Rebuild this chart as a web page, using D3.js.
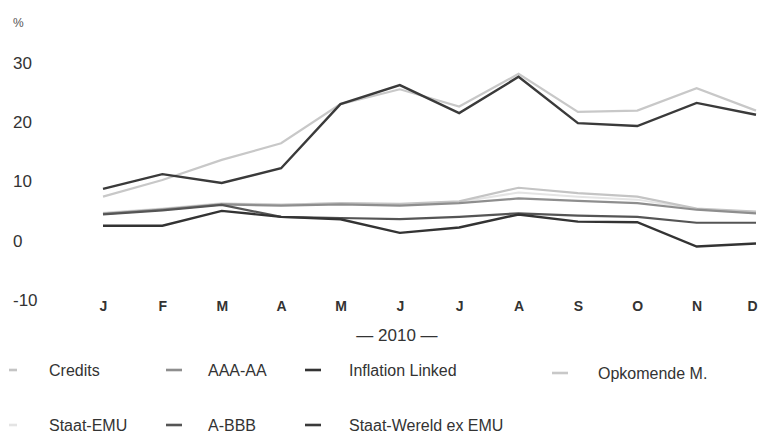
<!DOCTYPE html>
<html>
<head>
<meta charset="utf-8">
<script src="https://cdn.jsdelivr.net/npm/d3@7"></script>
<style>
  html, body { margin: 0; padding: 0; background: #fff; }
  svg { display: block; }
  text { font-family: "Liberation Sans", Arial, sans-serif; fill: #333; }
</style>
</head>
<body>
<svg id="chart" width="759" height="439"></svg>
<script>
// Rendement per maand, 2010 (%)
const months = ["J", "F", "M", "A", "M", "J", "J", "A", "S", "O", "N", "D"];
const yTicks = [-10, 0, 10, 20, 30];

const staatWereld   = [8.6, 11.1, 9.6, 12.1, 22.9, 26.1, 21.4, 27.5, 19.7, 19.2, 23.1, 21.1];
const opkomende     = [7.3, 10.1, 13.5, 16.3, 22.9, 25.4, 22.5, 28.0, 21.6, 21.8, 25.6, 21.8];
const credits       = [4.5, 5.2, 6.1, 5.9, 6.2, 6.1, 6.5, 8.8, 7.9, 7.3, 5.3, 4.8];
const staatEMU      = [4.6, 5.3, 6.2, 6.0, 6.2, 6.0, 6.4, 8.0, 7.3, 6.8, 5.2, 4.7];
const aaaAA         = [4.4, 5.1, 6.0, 5.8, 6.0, 5.8, 6.2, 7.0, 6.6, 6.2, 5.1, 4.5];
const aBBB          = [4.3, 5.0, 5.9, 3.9, 3.7, 3.5, 3.9, 4.5, 4.1, 3.9, 2.9, 2.9];
const inflationLink = [2.4, 2.4, 4.9, 3.9, 3.5, 1.2, 2.1, 4.3, 3.1, 3.0, -1.1, -0.6];

const series = [
  { name: "Staat-EMU",           values: staatEMU,      color: "#e4e4e4", width: 2.0 },
  { name: "Credits",             values: credits,       color: "#c4c4c4", width: 2.2 },
  { name: "AAA-AA",              values: aaaAA,         color: "#8e8e8e", width: 2.2 },
  { name: "A-BBB",               values: aBBB,          color: "#555555", width: 2.2 },
  { name: "Inflation Linked",    values: inflationLink, color: "#333333", width: 2.4 },
  { name: "Opkomende M.",        values: opkomende,     color: "#c8c8c8", width: 2.2 },
  { name: "Staat-Wereld ex EMU", values: staatWereld,   color: "#3a3a3a", width: 2.4 }
];

const svg = d3.select("#chart");

const x = d3.scalePoint().domain(d3.range(months.length)).range([103, 756]);
const y = d3.scaleLinear().domain([-10, 30]).range([299.3, 62]);

// y-axis labels, no axis line
const yAxis = svg.append("g")
  .attr("transform", "translate(13,0)")
  .call(d3.axisLeft(y).tickValues(yTicks).tickSize(0).tickFormat(d => String(d)));
yAxis.select(".domain").remove();
yAxis.selectAll("text")
  .attr("x", 0).attr("dy", "0.36em")
  .attr("text-anchor", "start")
  .style("font-family", "'Liberation Sans', Arial, sans-serif")
  .style("font-size", "17px").style("fill", "#333");

svg.append("text").attr("x", 13).attr("y", 27)
  .style("font-size", "12px").style("fill", "#555").text("%");

// month labels
const xAxis = svg.append("g")
  .attr("transform", "translate(0,299)")
  .call(d3.axisBottom(x).tickSize(0).tickFormat(i => months[i]));
xAxis.select(".domain").remove();
xAxis.selectAll("text")
  .attr("y", 0).attr("dy", "0.85em")
  .attr("x", i => (i === months.length - 1 ? -4 : 0))
  .style("font-family", "'Liberation Sans', Arial, sans-serif")
  .style("font-size", "14px").style("font-weight", "bold").style("fill", "#333");

svg.append("text").attr("x", 397).attr("y", 341)
  .attr("text-anchor", "middle")
  .style("font-size", "17px").text("\u2014 2010 \u2014");

// lines
const line = d3.line().x((d, i) => x(i)).y(d => y(d));
svg.append("g").selectAll("path")
  .data(series)
  .join("path")
  .attr("d", d => line(d.values))
  .attr("fill", "none")
  .attr("stroke", d => d.color)
  .attr("stroke-width", d => d.width)
  .attr("stroke-linejoin", "miter");

// legend
const legendItems = [
  { name: "Credits",             sx: 9,   tx: 49,  ty: 376 },
  { name: "AAA-AA",              sx: 166, tx: 208, ty: 376 },
  { name: "Inflation Linked",    sx: 305, tx: 349, ty: 376 },
  { name: "Opkomende M.",        sx: 552, tx: 598, ty: 379 },
  { name: "Staat-EMU",           sx: 9,   tx: 49,  ty: 431 },
  { name: "A-BBB",               sx: 166, tx: 208, ty: 431 },
  { name: "Staat-Wereld ex EMU", sx: 305, tx: 349, ty: 431 }
];
const byName = new Map(series.map(s => [s.name, s]));
const legend = svg.append("g");
legendItems.forEach(it => {
  const s = byName.get(it.name);
  legend.append("line")
    .attr("x1", it.sx).attr("x2", it.sx + (it.sx < 20 ? 8 : 16))
    .attr("y1", it.ty - 6).attr("y2", it.ty - 6)
    .attr("stroke", s.color).attr("stroke-width", 2.6);
  legend.append("text").attr("x", it.tx).attr("y", it.ty)
    .style("font-size", "16px").text(it.name);
});
</script>
</body>
</html>
